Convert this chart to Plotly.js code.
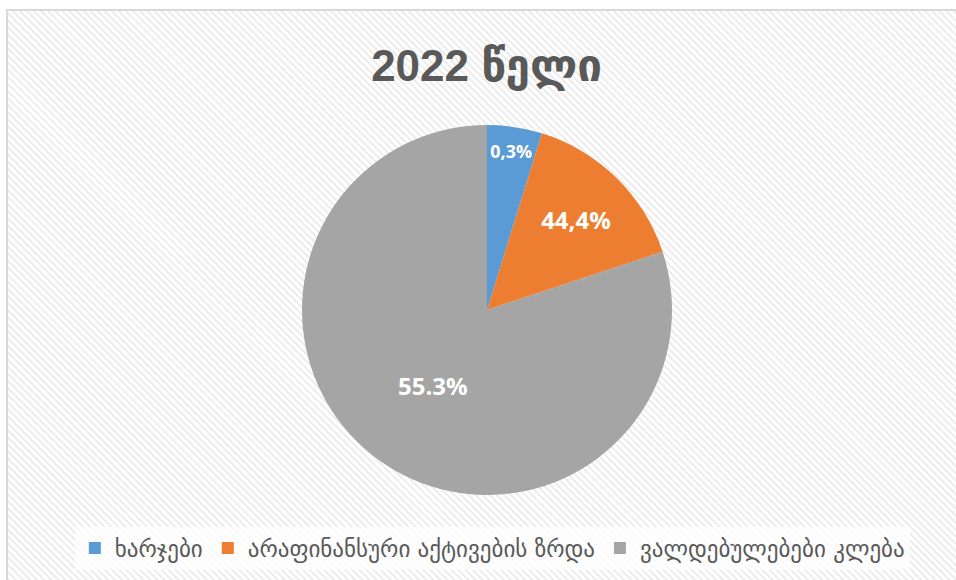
<!DOCTYPE html>
<html>
<head>
<meta charset="utf-8">
<script src="https://cdn.plot.ly/plotly-3.0.1.min.js"></script>
<style>
  html, body { margin: 0; padding: 0; background: #ffffff; }
  #frame {
    position: absolute; left: 6px; top: 9px; width: 960px; height: 580px;
    border-left: 2px solid #d9d9d9; border-top: 2px solid #d9d9d9;
    background: repeating-linear-gradient(45deg, #ffffff 0px, #ffffff 2px, #ececec 3px, #ececec 4px, #ffffff 5px);
  }
  #chart { position: absolute; left: 0; top: 0; width: 956px; height: 580px; }
</style>
</head>
<body>
<div id="frame"></div>
<div id="chart"></div>
<script>
const categories = ["ხარჯები", "არაფინანსური აქტივების ზრდა", "ვალდებულებები კლება"];
const sliceValues = [4.8, 15.1, 80.1];
const sliceLabels = ["0,3%", "44,4%", "55.3%"];
const colors = ["#5b9bd5", "#ed7d31", "#a5a5a5"];
const titleText = "2022 წელი";

const W = 956, H = 580;
const cx = 487, cy = 310, r = 185;

const trace = {
  type: "pie",
  labels: categories,
  values: sliceValues,
  text: sliceLabels,
  texttemplate: "<b>%{text}</b>",
  textinfo: "text",
  textposition: "inside",
  insidetextorientation: "horizontal",
  insidetextfont: { color: "#ffffff", size: 24, family: "Open Sans, DejaVu Sans, sans-serif" },
  marker: { colors: colors, line: { width: 0 } },
  sort: false,
  direction: "clockwise",
  rotation: 0,
  hoverinfo: "none",
  domain: { x: [(cx - r) / W, (cx + r) / W], y: [(H - cy - r) / H, (H - cy + r) / H] }
};

const layout = {
  width: W, height: H,
  margin: { l: 0, r: 0, t: 0, b: 0 },
  paper_bgcolor: "rgba(0,0,0,0)",
  plot_bgcolor: "rgba(0,0,0,0)",
  title: {
    text: "<b>" + titleText + "</b>",
    x: 0.509, xanchor: "center",
    y: 1 - 66 / H, yanchor: "middle",
    font: { size: 44, color: "#595959", family: "Liberation Sans Narrow, Liberation Sans, DejaVu Sans, sans-serif" }
  },
  showlegend: true,
  legend: {
    orientation: "h",
    x: 0.515, xanchor: "center",
    y: (H - 548) / H, yanchor: "middle",
    bgcolor: "rgba(255,255,255,0.75)",
    font: { size: 23, color: "#595959", family: "DejaVu Sans, sans-serif" },
    itemwidth: 30,
    traceorder: "normal"
  }
};

Plotly.newPlot("chart", [trace], layout, { displayModeBar: false, staticPlot: true });
</script>
</body>
</html>
